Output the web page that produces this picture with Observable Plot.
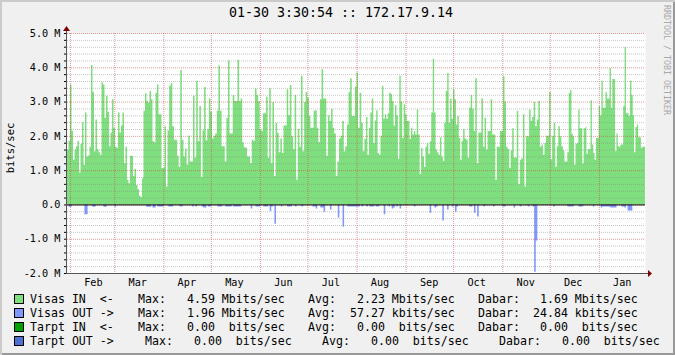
<!DOCTYPE html>
<html><head><meta charset="utf-8">
<script src="https://cdn.jsdelivr.net/npm/d3@7"></script>
<script src="https://cdn.jsdelivr.net/npm/@observablehq/plot@0.6"></script>
<style>
html,body{margin:0;padding:0;background:#f0f0f0;}
#wrap{position:relative;width:675px;height:355px;background:#f0f0f0;box-shadow:inset 2px 2px 0 #cbcbcb, inset -2px -2px 0 #999;overflow:hidden;font-family:"DejaVu Sans Mono",monospace;color:#000;}
#wrap svg{position:absolute;left:0;top:0;}
.t{position:absolute;white-space:pre;line-height:14px;font-size:11.6px;}
.box{position:absolute;width:10px;height:10px;box-sizing:border-box;border:1px solid #000;}
</style></head><body><div id="wrap"></div>
<script>
// ---------- text ----------
const title = "01-30 3:30:54 :: 172.17.9.14";
const yLabel = "bits/sec";
const watermark = "RRDTOOL / TOBI OETIKER";

// ---------- time axis ----------
const t0 = Date.UTC(2010, 0, 30, 3, 30, 54);
const DAY = 86400000;
const t1 = t0 + 365 * DAY;
const monthStarts = [
  "2010-02-01","2010-03-01","2010-04-01","2010-05-01","2010-06-01","2010-07-01",
  "2010-08-01","2010-09-01","2010-10-01","2010-11-01","2010-12-01","2011-01-01"
].map(s => new Date(s + "T00:00:00Z"));
const monthLabelDates = [
  "2010-02-15","2010-03-15","2010-04-15","2010-05-15","2010-06-15","2010-07-15",
  "2010-08-15","2010-09-15","2010-10-15","2010-11-15","2010-12-15","2011-01-15"
].map(s => new Date(s + "T12:00:00Z"));

// ---------- y axis ----------
const yMajor = [-2, -1, 0, 1, 2, 3, 4, 5];
const yMajorLabels = ["-2.0 M", "-1.0 M", "0.0", "1.0 M", "2.0 M", "3.0 M", "4.0 M", "5.0 M"];

// ---------- Visas IN (Mbits/sec), daily bars, read in six periods ----------
const periodBounds = [0, 62.5, 125.7, 188.8, 252.0, 315.1, 365]; // days since start
const inPart1 = [1.6, 1.86, 3.5, 2.15, 1.3, 1.6, 1.7, 1.86, 0.93, 1.77, 2.4, 1.16, 2.68, 1.4, 1.43, 1.68, 4.07, 3.28, 1.55, 2.48, 1.62, 1.52, 1.45, 3.56, 3.5, 2.53, 3.17, 2.7, 1.7, 2.1, 3.07, 2.23, 1.68, 1.65, 2.68, 2.1, 2.3, 2.68, 1.2, 1.68, 0.72, 0.62, 1.42, 1.42, 0.83, 1.03, 0.57, 0.44, 0.25, 0.22, 0.76, 2.73, 3.24, 3.02, 2.97, 3.31, 3.07, 1.84, 1.81, 3.26, 3.5, 2.63, 2.63, 1.06, 1.06, 2.28];
const inPart2 = [0.52, 2.16, 3.46, 3.54, 2.28, 1.89, 1.89, 1.42, 1.1, 3.92, 1.89, 1.4, 1.63, 1.16, 2.0, 1.25, 1.25, 3.17, 1.37, 3.6, 1.84, 2.87, 0.81, 2.16, 3.43, 1.87, 2.2, 3.09, 2.7, 1.92, 2.0, 2.07, 2.73, 4.05, 2.73, 1.7, 1.7, 1.25, 2.53, 4.2, 2.07, 2.07, 3.19, 3.02, 3.02, 4.22, 3.02, 3.09, 1.81, 1.67, 1.65, 1.4, 1.4, 1.2, 1.89, 1.86, 3.38, 3.19, 3.02, 2.19, 2.14, 2.66, 2.66];
const inPart3 = [3.14, 1.37, 3.39, 1.2, 2.99, 0.83, 2.38, 2.09, 1.52, 1.92, 1.5, 2.3, 2.3, 3.36, 2.6, 3.48, 1.99, 1.62, 3.19, 0.72, 2.2, 1.68, 3.75, 1.55, 2.99, 3.28, 3.12, 2.58, 2.24, 2.24, 2.73, 2.75, 2.24, 1.81, 3.07, 3.95, 3.09, 3.09, 1.42, 2.6, 2.43, 2.79, 2.24, 2.07, 0.83, 1.25, 1.92, 2.0, 2.43, 1.55, 1.7, 2.33, 3.28, 3.68, 2.58, 2.58, 3.44, 3.85, 2.24, 3.26, 2.38, 1.55, 1.91];
const inPart4 = [2.55, 1.45, 2.24, 2.68, 3.09, 1.79, 2.45, 2.75, 1.5, 1.45, 2.0, 3.46, 2.5, 2.63, 2.5, 2.66, 3.26, 3.22, 3.02, 2.3, 2.89, 2.6, 1.33, 3.75, 3.0, 1.94, 2.92, 2.63, 2.43, 2.43, 1.91, 2.24, 2.04, 2.14, 2.04, 2.77, 2.04, 0.89, 1.65, 1.4, 1.09, 1.68, 1.79, 1.48, 1.84, 2.68, 4.25, 2.68, 1.6, 1.52, 1.45, 1.96, 1.4, 1.27, 2.38, 3.31, 3.83, 2.38, 3.09, 2.5, 3.36, 3.07, 2.33, 2.58, 1.94, 1.3, 1.86, 2.2, 1.92];
const inPart5 = [1.89, 1.37, 2.82, 3.19, 2.79, 2.14, 3.68, 1.2, 2.1, 2.1, 3.1, 1.68, 2.53, 1.6, 2.14, 2.14, 3.07, 2.04, 2.04, 0.72, 1.68, 1.68, 2.14, 2.14, 3.74, 3.0, 1.68, 1.62, 1.06, 1.57, 2.22, 1.37, 1.37, 2.73, 0.59, 1.3, 1.35, 2.63, 0.52, 1.99, 1.99, 2.77, 2.43, 2.56, 2.99, 2.28, 2.48, 3.02, 1.68, 1.75, 1.45, 1.79, 2.0, 2.0, 3.28, 1.32, 2.0, 2.38, 1.1, 1.7, 2.28, 1.99, 1.7, 1.57, 1.25];
const inPart6 = [1.25, 1.52, 3.25, 3.34, 2.06, 1.99, 1.16, 1.77, 1.79, 2.77, 2.22, 2.22, 1.19, 2.22, 2.25, 1.48, 1.62, 1.62, 3.04, 1.75, 1.5, 1.3, 1.94, 1.94, 2.87, 2.6, 3.61, 2.82, 2.82, 3.28, 3.09, 3.09, 3.98, 2.82, 3.66, 3.66, 1.55, 2.07, 1.7, 1.68, 1.75, 1.75, 2.87, 4.59, 2.66, 2.66, 2.58, 3.61, 3.19, 2.6, 1.52, 2.26, 2.33, 1.96, 1.96, 1.65, 1.68, 1.68];
const inParts = [inPart1, inPart2, inPart3, inPart4, inPart5, inPart6];

// ---------- Visas OUT (Mbits/sec, drawn negative): [day since start, value]; other days ~0 ----------
const outSpikes = [
  [1,-0.07],[2,-0.07],[11,-0.29],[12,-0.29],[16,-0.07],[17,-0.07],[23,-0.07],[24,-0.07],[30,-0.07],
  [50,-0.07],[51,-0.07],[52,-0.07],[54,-0.09],[55,-0.09],[57,-0.06],[58,-0.06],[59,-0.06],[60,-0.06],
  [64,-0.06],[65,-0.06],[66,-0.06],[71,-0.06],[72,-0.06],[79,-0.06],[81,-0.06],[85,-0.06],[86,-0.09],[87,-0.09],
  [89,-0.06],[90,-0.06],[95,-0.06],[96,-0.06],[97,-0.06],[100,-0.06],[101,-0.06],[102,-0.06],[103,-0.06],
  [105,-0.06],[106,-0.06],[107,-0.06],[108,-0.06],[109,-0.06],[116,-0.12],[119,-0.06],[120,-0.06],[121,-0.06],
  [124,-0.06],[125,-0.06],[126,-0.06],[128,-0.19],[129,-0.06],[131,-0.56],[135,-0.06],[139,-0.06],[140,-0.06],
  [141,-0.06],[144,-0.06],[148,-0.06],[155,-0.06],[156,-0.06],[157,-0.12],[160,-0.09],[161,-0.09],[162,-0.21],
  [166,-0.15],[171,-0.38],[174,-0.65],[177,-0.06],[178,-0.06],[179,-0.06],[180,-0.06],[181,-0.06],[182,-0.06],
  [183,-0.06],[184,-0.06],[186,-0.06],[189,-0.06],[191,-0.06],[192,-0.06],[193,-0.06],[195,-0.06],[196,-0.06],
  [200,-0.29],[203,-0.06],[205,-0.12],[206,-0.09],[208,-0.06],[210,-0.12],[219,-0.06],[229,-0.24],[232,-0.09],
  [233,-0.06],[237,-0.47],[240,-0.15],[243,-0.06],[245,-0.21],[246,-0.06],[254,-0.06],[255,-0.06],[257,-0.24],
  [259,-0.35],[263,-0.06],[269,-0.06],[275,-0.06],[276,-0.06],[282,-0.09],[286,-0.06],[291,-0.06],[294,-0.06],
  [295,-1.96],[296,-1.05],[307,-0.06],[316,-0.06],[317,-0.06],[318,-0.06],[319,-0.06],[323,-0.06],[324,-0.06],
  [325,-0.06],[332,-0.06],[337,-0.09],[338,-0.06],[339,-0.06],[340,-0.06],[341,-0.06],[342,-0.06],[343,-0.09],
  [344,-0.09],[345,-0.09],[346,-0.09],[350,-0.06],[351,-0.06],[352,-0.09],[354,-0.18],[355,-0.18],[356,-0.18]
];

// ---------- legend ----------
const seriesNames  = ["Visas IN  <-", "Visas OUT ->", "Tarpt IN  <-", "Tarpt OUT ->"];
const seriesColors = ["#7fdf7f", "#8097ff", "#00a000", "#4f6fd0"];
const maxValues = [4.59, 1.96, 0.00, 0.00];
const maxUnits  = ["M", "M", " ", " "];
const avgValues = [2.23, 57.27, 0.00, 0.00];
const avgUnits  = ["M", "k", " ", " "];
const curValues = [1.69, 24.84, 0.00, 0.00];
const curUnits  = ["M", "k", " ", " "];

// ---------- build data ----------
const day = d => new Date(t0 + d * DAY);
const inPts = [];
inParts.forEach((vals, k) => {
  const a = periodBounds[k], b = periodBounds[k + 1], w = (b - a) / vals.length;
  vals.forEach((v, i) => inPts.push({t: day(a + i * w), v}));
});
inPts.push({t: day(365), v: inPart6[inPart6.length - 1]});
const outMap = new Map(outSpikes);
const outPts = d3.range(0, 366).map(d => ({t: day(d), v: outMap.has(d) ? outMap.get(d) : 0}));

const levels = d3.range(-10, 26).map(i => i / 5);
const isInt = v => Math.abs(v - Math.round(v)) < 1e-9;
const minorLevels = levels.filter(v => !isInt(v));
const majorLevels = levels.filter(v => isInt(v) && v > -2);

const gridGray = "rgba(140,140,140,0.5)";
const gridRed = "rgba(205,70,70,0.55)";

const chart = Plot.plot({
  width: 675, height: 290,
  marginLeft: 67, marginRight: 30, marginTop: 33, marginBottom: 17,
  style: {background: "transparent", fontFamily: "DejaVu Sans Mono", fontSize: "10.2px", color: "#000", overflow: "visible"},
  x: {type: "utc", domain: [new Date(t0), new Date(t1)]},
  y: {domain: [-2, 5]},
  marks: [
    Plot.frame({fill: "#fff", stroke: "none"}),
    Plot.areaY(inPts, {x: "t", y: "v", curve: "step-after", fill: seriesColors[0]}),
    Plot.areaY(outPts, {x: "t", y: "v", curve: "step-after", fill: seriesColors[1]}),
    Plot.ruleY(minorLevels, {stroke: gridGray, strokeDasharray: "1,1"}),
    Plot.ruleY(majorLevels, {stroke: gridRed, strokeDasharray: "1,1"}),
    Plot.ruleX(monthStarts, {stroke: gridRed, strokeDasharray: "1,1"}),
    Plot.ruleY([0], {stroke: "#000"}),
    Plot.axisY({ticks: levels, tickSize: 3, tickPadding: 4, label: null,
      tickFormat: d => { const i = yMajor.findIndex(m => Math.abs(m - d) < 1e-9); return i >= 0 ? yMajorLabels[i] : ""; }}),
    Plot.axisX({ticks: monthLabelDates, tickSize: 0, tickPadding: 5, label: null, tickFormat: d3.utcFormat("%b")})
  ]
});

const wrap = document.getElementById("wrap");
wrap.appendChild(chart);

// axis lines + arrows (rrdtool style)
const X = chart.scale("x"), Y = chart.scale("y");
const xl = X.apply(new Date(t0)), xr = X.apply(new Date(t1));
const yb = Y.apply(-2), yt = Y.apply(5);
const svg = d3.select(chart);
const g = svg.append("g");
g.append("line").attr("x1", xl - 0.5).attr("x2", xl - 0.5).attr("y1", yb + 1).attr("y2", yt - 4)
  .attr("stroke", "#555").attr("stroke-width", 1);
g.append("line").attr("x1", xl - 1).attr("x2", xr + 4).attr("y1", yb + 0.5).attr("y2", yb + 0.5)
  .attr("stroke", "#555").attr("stroke-width", 1);
g.append("path").attr("d", `M${xl - 4},${yt - 2}L${xl + 3},${yt - 2}L${xl - 0.5},${yt - 7}Z`).attr("fill", "#800000");
g.append("path").attr("d", `M${xr + 3},${yb - 3}L${xr + 3},${yb + 4}L${xr + 7},${yb + 0.5}Z`).attr("fill", "#800000");

// HTML texts
function addText(txt, css, cls) {
  const d = document.createElement("div");
  if (cls) d.className = cls;
  d.textContent = txt;
  Object.assign(d.style, css);
  wrap.appendChild(d);
  return d;
}
addText(title, {position: "absolute", left: "341px", top: "5px", transform: "translateX(-50%)", fontSize: "13.3px", lineHeight: "16px", whiteSpace: "pre"});
addText(yLabel, {position: "absolute", left: "4px", top: "148px", fontSize: "10.5px", lineHeight: "12px", whiteSpace: "pre",
  writingMode: "vertical-rl", transform: "translateY(-50%) rotate(180deg)"});
addText(watermark, {position: "absolute", left: "662px", top: "5px", fontSize: "8.3px", lineHeight: "10px", whiteSpace: "pre",
  writingMode: "vertical-rl", color: "#a8a8a8"});

const fmt = (v, u) => v.toFixed(2).padStart(6) + " " + u + "bits/sec";
const rowY = [298.5, 312.5, 326.5, 340.5];
const colX = [30, 138, 173, 308, 343, 478, 526];
const rowShift = [[0,0,0,0,0,0,0],[0,0,0,0,0,0,0],[0,0,0,0,0,0,0],[0,7,7,14,14,21,22]];
seriesNames.forEach((name, r) => {
  const b = document.createElement("div");
  b.className = "box";
  Object.assign(b.style, {left: "14px", top: (rowY[r] - 5) + "px", background: seriesColors[r]});
  wrap.appendChild(b);
  const pieces = [name, "Max:", fmt(maxValues[r], maxUnits[r]), "Avg:", fmt(avgValues[r], avgUnits[r]), "Dabar:", fmt(curValues[r], curUnits[r])];
  pieces.forEach((p, c) => addText(p, {left: (colX[c] + rowShift[r][c]) + "px", top: (rowY[r] - 7) + "px"}, "t"));
});
</script></body></html>
